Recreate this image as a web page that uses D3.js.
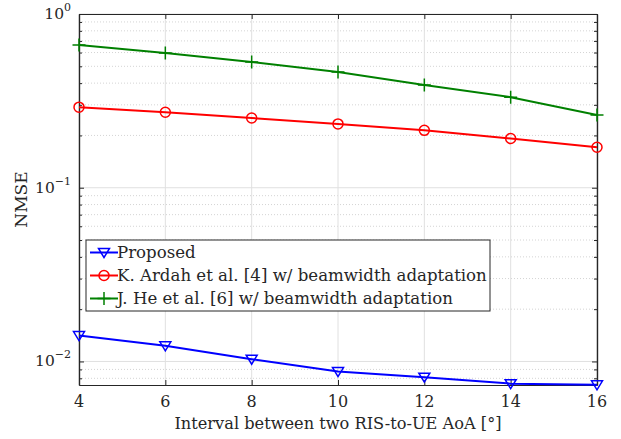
<!DOCTYPE html>
<html>
<head>
<meta charset="utf-8">
<script src="https://cdn.jsdelivr.net/npm/d3@7"></script>
<style>
  body { margin: 0; background: #fff; }
  svg text { font-family: "DejaVu Serif", "Liberation Serif", serif; fill: #262626; }
</style>
</head>
<body>
<div id="chart"></div>
<script>
// x values (interval in degrees)
const intervals = [4, 6, 8, 10, 12, 14, 16];

// NMSE per method
const proposed = [0.0141, 0.0123, 0.0103, 0.00875, 0.00812, 0.00745, 0.00734];
const ardah = [0.291, 0.272, 0.252, 0.233, 0.214, 0.192, 0.171];
const he = [0.663, 0.596, 0.529, 0.463, 0.390, 0.332, 0.262];

const seriesNames = [
  'Proposed',
  'K. Ardah et al. [4] w/ beamwidth adaptation',
  'J. He et al. [6] w/ beamwidth adaptation'
];
const yDecades = [-2, -1, 0];

const W = 621, H = 439;
const margin = { left: 79, right: 24, top: 14, bottom: 54 };
const innerW = W - margin.left - margin.right;
const innerH = H - margin.top - margin.bottom;

const svg = d3.select('#chart').append('svg')
  .attr('width', W).attr('height', H);

const x = d3.scaleLinear().domain([4, 16]).range([0, innerW]);
const y = d3.scaleLog().domain([0.00732, 1]).range([innerH, 0]);

const g = svg.append('g').attr('transform', `translate(${margin.left},${margin.top})`);

// ---------------------------
// grid
// ---------------------------
const minorVals = [];
yDecades.forEach(e => {
  for (let k = 2; k <= 9; k++) {
    const v = k * Math.pow(10, e - 1);
    if (v >= y.domain()[0] && v <= 1) minorVals.push(v);
  }
});

g.append('g').selectAll('line').data(minorVals).enter().append('line')
  .attr('x1', 0).attr('x2', innerW)
  .attr('y1', d => y(d)).attr('y2', d => y(d))
  .attr('stroke', '#d4d4d4').attr('stroke-width', 1)
  .attr('stroke-dasharray', '1,2');

g.append('g').selectAll('line').data(yDecades.map(e => Math.pow(10, e))).enter().append('line')
  .attr('x1', 0).attr('x2', innerW)
  .attr('y1', d => y(d)).attr('y2', d => y(d))
  .attr('stroke', '#e0e0e0').attr('stroke-width', 1);

g.append('g').selectAll('line').data(intervals).enter().append('line')
  .attr('x1', d => x(d)).attr('x2', d => x(d))
  .attr('y1', 0).attr('y2', innerH)
  .attr('stroke', '#e0e0e0').attr('stroke-width', 1);

// ---------------------------
// axes (ticks inward, box)
// ---------------------------
const axisColor = '#262626';
const tickFmt = () => '';

const xBottom = g.append('g').attr('transform', `translate(0,${innerH})`)
  .call(d3.axisBottom(x).tickValues(intervals).tickSizeInner(-5).tickSizeOuter(0).tickFormat(tickFmt));
const xTop = g.append('g')
  .call(d3.axisTop(x).tickValues(intervals).tickSizeInner(-5).tickSizeOuter(0).tickFormat(tickFmt));
const yLeftMinor = g.append('g')
  .call(d3.axisLeft(y).tickValues(minorVals).tickSizeInner(-3).tickSizeOuter(0).tickFormat(tickFmt));
const yLeft = g.append('g')
  .call(d3.axisLeft(y).tickValues(yDecades.map(e => Math.pow(10, e))).tickSizeInner(-5).tickSizeOuter(0).tickFormat(tickFmt));
const yRightMinor = g.append('g').attr('transform', `translate(${innerW},0)`)
  .call(d3.axisRight(y).tickValues(minorVals).tickSizeInner(-3).tickSizeOuter(0).tickFormat(tickFmt));
const yRight = g.append('g').attr('transform', `translate(${innerW},0)`)
  .call(d3.axisRight(y).tickValues(yDecades.map(e => Math.pow(10, e))).tickSizeInner(-5).tickSizeOuter(0).tickFormat(tickFmt));

[xBottom, xTop, yLeftMinor, yLeft, yRightMinor, yRight].forEach(a => {
  a.selectAll('path').attr('stroke', axisColor).attr('stroke-width', 1.2);
  a.selectAll('line').attr('stroke', axisColor);
});

// x tick labels
g.append('g').selectAll('text').data(intervals).enter().append('text')
  .attr('x', d => x(d)).attr('y', innerH + 22)
  .attr('text-anchor', 'middle')
  .style('font-size', '16px')
  .text(d => d);

// y tick labels 10^e
const yLab = g.append('g').selectAll('text').data(yDecades).enter().append('text')
  .attr('x', -8).attr('y', d => y(Math.pow(10, d)) + 5)
  .attr('text-anchor', 'end')
  .style('font-size', '15.5px');
yLab.append('tspan').text('10');
yLab.append('tspan').attr('dy', -8).style('font-size', '11px')
  .text(d => d === 0 ? '0' : '\u2212' + Math.abs(d));

// axis titles
svg.append('text')
  .attr('x', margin.left + innerW / 2).attr('y', H - 10)
  .attr('text-anchor', 'middle')
  .style('font-size', '16.2px')
  .text('Interval between two RIS-to-UE AoA [\u00b0]');

svg.append('text')
  .attr('transform', `translate(27,${margin.top + innerH / 2}) rotate(-90)`)
  .attr('text-anchor', 'middle')
  .style('font-size', '17px')
  .text('NMSE');

// ---------------------------
// series
// ---------------------------
const series = [
  { name: seriesNames[0], values: proposed, color: '#0000ff', marker: 'tri' },
  { name: seriesNames[1], values: ardah, color: '#ff0000', marker: 'circle' },
  { name: seriesNames[2], values: he, color: '#008000', marker: 'plus' }
];

const line = d3.line().x(d => x(d[0])).y(d => y(d[1]));

function drawMarker(sel, type, color) {
  if (type === 'circle') {
    sel.append('circle').attr('r', 5).attr('fill', 'none')
      .attr('stroke', color).attr('stroke-width', 1.5);
  } else if (type === 'tri') {
    sel.append('path').attr('d', 'M-5.5,-4 L5.5,-4 L0,5 Z').attr('fill', 'none')
      .attr('stroke', color).attr('stroke-width', 1.5);
  } else {
    sel.append('path').attr('d', 'M-6.5,0 H6.5 M0,-6.5 V6.5').attr('fill', 'none')
      .attr('stroke', color).attr('stroke-width', 1.5);
  }
}

series.forEach(s => {
  const pts = intervals.map((v, i) => [v, s.values[i]]);
  g.append('path').datum(pts)
    .attr('d', line)
    .attr('fill', 'none')
    .attr('stroke', s.color)
    .attr('stroke-width', 2);
  g.append('g').selectAll('g').data(pts).enter().append('g')
    .attr('transform', d => `translate(${x(d[0])},${y(d[1])})`)
    .each(function () { drawMarker(d3.select(this), s.marker, s.color); });
});

// ---------------------------
// legend
// ---------------------------
const leg = svg.append('g').attr('transform', 'translate(86,240)');
leg.append('rect').attr('width', 404).attr('height', 71)
  .attr('fill', '#fff').attr('stroke', axisColor).attr('stroke-width', 1);
series.forEach((s, i) => {
  const cy = 12.5 + i * 23;
  const row = leg.append('g').attr('transform', `translate(0,${cy})`);
  row.append('line').attr('x1', 4).attr('x2', 32).attr('y1', 0).attr('y2', 0)
    .attr('stroke', s.color).attr('stroke-width', 2);
  const m = row.append('g').attr('transform', 'translate(18,0)');
  drawMarker(m, s.marker, s.color);
  row.append('text').attr('x', 31).attr('y', 5.5)
    .style('font-size', '16.6px')
    .text(s.name);
});
</script>
</body>
</html>
